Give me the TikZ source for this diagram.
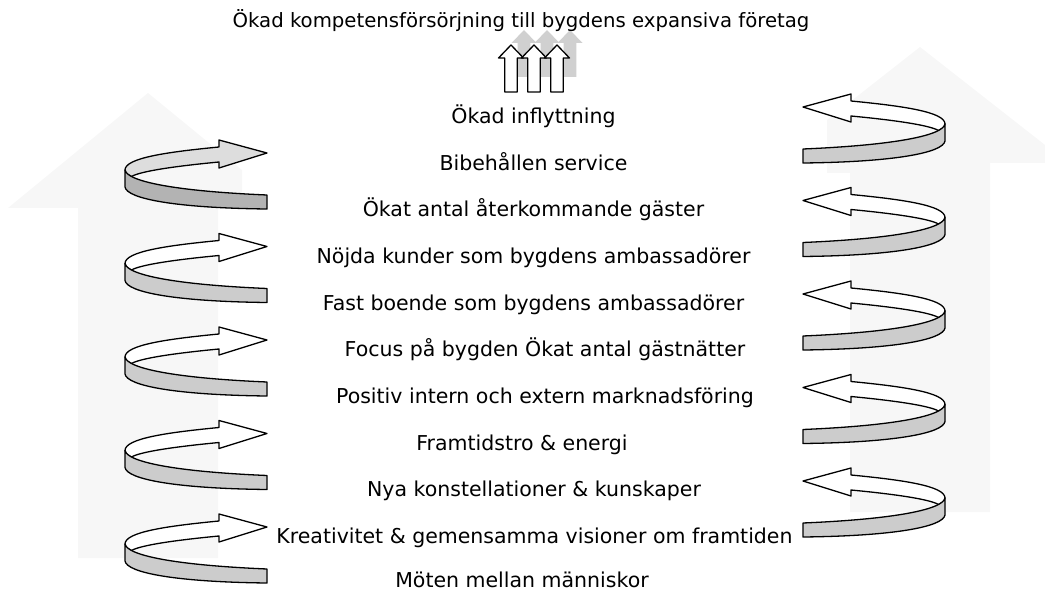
\documentclass[tikz,border=0pt]{standalone}
\usepackage{fontspec}
\setmainfont{DejaVu Sans}
\usepackage{xcolor}
\definecolor{bgarrow}{HTML}{F7F7F7}
\definecolor{bandlight}{HTML}{DDDDDD}
\definecolor{banddark}{HTML}{B3B3B3}
\definecolor{bandgray}{HTML}{CCCCCC}
\definecolor{shadowgray}{HTML}{D0D0D0}
\usepackage{tikz}
\usetikzlibrary{positioning}
% ribbon arrow, tip at local origin, pointing right
\newcommand{\ribbon}[2]{%
 \filldraw[band,fill=#1] (-48,-6) -- (-48,-13) -- (0,0) -- (-48,15) -- (-48,9)
   .. controls (-90,13) and (-126,18) .. (-135.5,23.5) .. controls (-140.5,21) .. (-142,17)
   .. controls (-142,5) and (-100,-1) .. (-48,-6) -- cycle;
 \filldraw[band,fill=#2] (-142,17) .. controls (-140,28) and (-95,38) .. (0,42) -- (0,56)
   .. controls (-90,55) and (-140,46) .. (-142,34) -- cycle;
}
\newcommand{\uparr}{(0,0) -- (12.5,13) -- (6.3,13) -- (6.3,47) -- (-6.3,47) -- (-6.3,13) -- (-12.5,13) -- cycle}

\begin{document}
\begin{tikzpicture}[x=1pt,y=-1pt]
\tikzset{
 band/.style={draw=black,line width=1.3pt,line join=round},
 lbl/.style={anchor=base,inner sep=0pt,font=\fontsize{20.5}{24}\selectfont},
 ttl/.style={anchor=base,inner sep=0pt,font=\fontsize{19.7}{24}\selectfont}
}
\clip (0,0) rectangle (1045,591);
% faint background arrows
\fill[bgarrow] (8,208) -- (148,93) -- (242,170) -- (242,208) -- (218,208) -- (218,558) -- (78,558) -- (78,208) -- cycle;
\fill[bgarrow] (827,120) -- (920,47) -- (1068,163) -- (990,163) -- (990,512) -- (850,512) -- (850,173) -- (827,173) -- cycle;

% top arrows with shadows
\foreach \x in {524,547,570}{\fill[shadowgray,shift={(\x,30)}] \uparr;}
\foreach \x in {511,534,557}{\filldraw[band,fill=white,shift={(\x,45)}] \uparr;}

% left ribbons
\begin{scope}[shift={(267,153)}] \ribbon{bandlight}{banddark} \end{scope}
\foreach \y in {246.5,340,433.5,527}{
 \begin{scope}[shift={(267,\y)}] \ribbon{white}{bandgray} \end{scope}
}
% right ribbons
\foreach \y in {107,200.5,294,387.5,481}{
 \begin{scope}[shift={(803,\y)},xscale=-1] \ribbon{white}{bandgray} \end{scope}
}

\node[ttl] (title) at (521,28) {Ökad kompetensförsörjning till bygdens expansiva företag};
\node[lbl] (n1) at (533.5,123.5) {Ökad inflyttning};
\node[lbl] (n2) at (533.5,170.2) {Bibehållen service};
\node[lbl] (n3) at (533.5,216.8) {Ökat antal återkommande gäster};
\node[lbl] (n4) at (533.5,263.5) {Nöjda kunder som bygdens ambassadörer};
\node[lbl] (n5) at (533.5,310.1) {Fast boende som bygdens ambassadörer};
\node[lbl] (n6) at (545,356.8) {Focus på bygden Ökat antal gästnätter};
\node[lbl] (n7) at (545,403.4) {Positiv intern och extern marknadsföring};
\node[lbl] (n8) at (522,450.1) {Framtidstro \& energi};
\node[lbl] (n9) at (534,496.7) {Nya konstellationer \& kunskaper};
\node[lbl] (n10) at (534.5,543.4) {Kreativitet \& gemensamma visioner om framtiden};
\node[lbl] (n11) at (522,587.5) {Möten mellan människor};
\end{tikzpicture}
\end{document}
